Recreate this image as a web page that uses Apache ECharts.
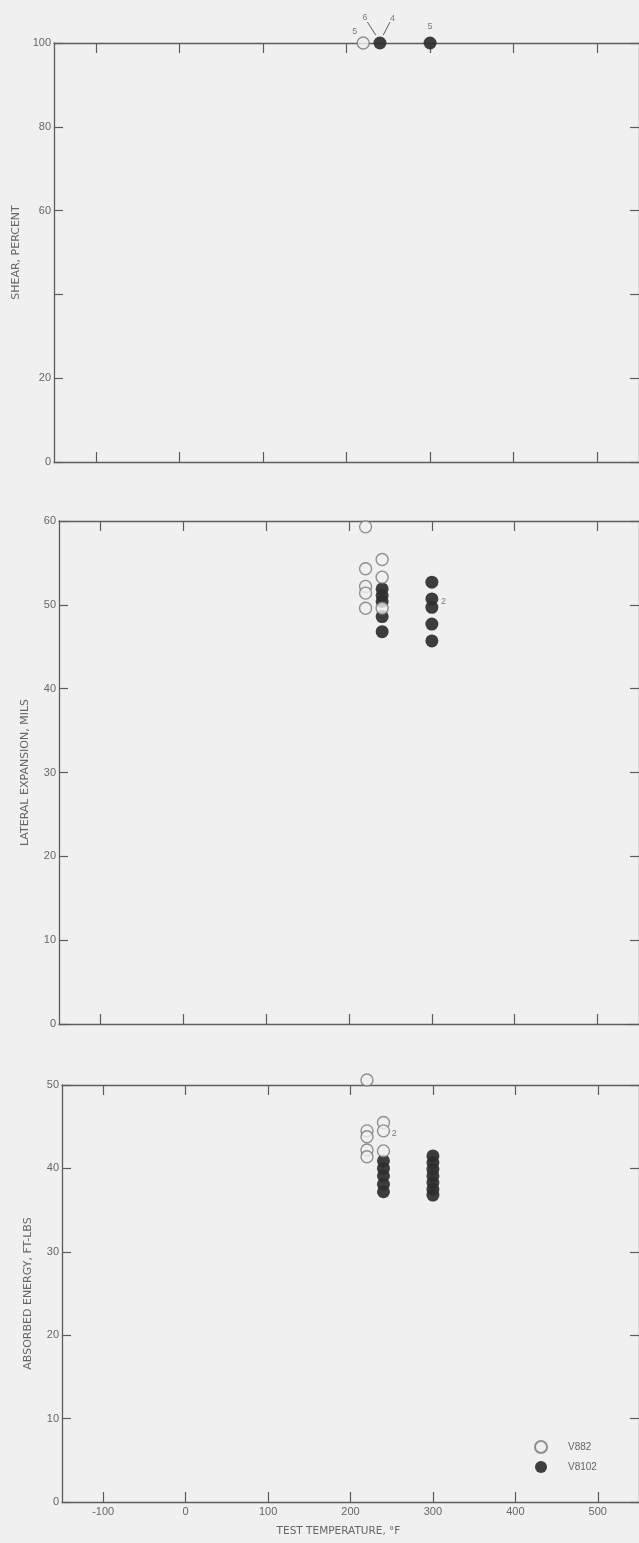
<!DOCTYPE html>
<html>
<head>
<meta charset="utf-8">
<script src="https://cdn.jsdelivr.net/npm/echarts@6/dist/echarts.min.js"></script>
<style>
  html, body { margin: 0; padding: 0; background: #f0f0f0; }
  #chart { width: 639px; height: 1543px; }
</style>
</head>
<body>
<div id="chart"></div>
<script>
// temperature ticks (deg F)
const tempTicks = [-100, 0, 100, 200, 300, 400, 500];

// shear, percent
const shearV882 = [[220, 100]];
const shearV8102 = [[240, 100], [300, 100]];
const shearNotes = [[210, 102.8, '5'], [222, 106.2, '6'], [255, 105.8, '4'], [300, 104, '5']];
const shearLeaders = [[[225, 105], [235, 101.9]], [[252, 105], [244, 101.9]]];

// lateral expansion, mils
const lateralV882 = [[220, 59.3], [220, 54.3], [220, 52.2], [220, 51.4], [220, 49.6],
  [240, 55.4], [240, 53.3], [240, 49.6]];
const lateralV8102 = [[240, 51.9], [240, 51.1], [240, 50.4], [240, 48.6], [240, 46.8],
  [300, 52.7], [300, 50.7], [300, 49.7], [300, 47.7], [300, 45.7]];
const lateralNotes = [[314, 50.4, '2']];

// absorbed energy, ft-lbs
const energyV882 = [[220, 50.6], [220, 44.5], [220, 43.8], [220, 42.2], [220, 41.4],
  [240, 45.5], [240, 44.5], [240, 42.1]];
const energyV8102 = [[240, 40.9], [240, 40.0], [240, 39.1], [240, 38.1], [240, 37.2],
  [300, 41.5], [300, 40.7], [300, 39.9], [300, 39.1], [300, 38.3], [300, 37.5], [300, 36.8]];
const energyNotes = [[253, 44.2, '2']];

const ink = '#5c5c5c';
const font = 'Liberation Sans';

const panels = [
  { grid: { left: 54, top: 43, width: 587, height: 419 }, max: 100, interval: 20,
    name: 'SHEAR, PERCENT', hide: [40], open: shearV882, filled: shearV8102, notes: shearNotes },
  { grid: { left: 59, top: 521, width: 587, height: 503 }, max: 60, interval: 10,
    name: 'LATERAL EXPANSION, MILS', hide: [], open: lateralV882, filled: lateralV8102, notes: lateralNotes },
  { grid: { left: 62, top: 1085, width: 587, height: 417 }, max: 50, interval: 10,
    name: 'ABSORBED ENERGY, FT-LBS', hide: [], open: energyV882, filled: energyV8102, notes: energyNotes }
];

const grid = [], xAxis = [], yAxis = [], series = [];

panels.forEach(function (p, i) {
  grid.push(p.grid);
  const last = i === panels.length - 1;
  const line = { onZero: false, lineStyle: { color: ink, width: 1.3 } };
  ['bottom', 'top'].forEach(function (pos) {
    xAxis.push({
      type: 'value', gridIndex: i, position: pos, min: -150, max: 550,
      axisLine: line,
      axisTick: { inside: true, length: 10, customValues: tempTicks, lineStyle: { color: ink, width: 1.2 } },
      axisLabel: { show: last && pos === 'bottom', customValues: tempTicks, color: '#666',
        fontFamily: font, fontSize: 11, margin: 4 },
      splitLine: { show: false },
      name: last && pos === 'bottom' ? 'TEST TEMPERATURE, \u00B0F' : '',
      nameLocation: 'middle', nameGap: 24,
      nameTextStyle: { color: '#666', fontFamily: 'DejaVu Sans', fontSize: 10.5, padding: [0, 24, 0, 0] }
    });
  });
  ['left', 'right'].forEach(function (pos) {
    yAxis.push({
      type: 'value', gridIndex: i, position: pos, min: 0, max: p.max, interval: p.interval,
      axisLine: line,
      axisTick: { inside: true, length: 9, lineStyle: { color: ink, width: 1.2 } },
      axisLabel: { show: pos === 'left', color: '#666', fontFamily: font, fontSize: 11, margin: 3,
        formatter: function (v) { return p.hide.indexOf(v) >= 0 ? '' : String(v); } },
      splitLine: { show: false },
      name: pos === 'left' ? p.name : '',
      nameLocation: 'middle', nameGap: 28,
      nameTextStyle: { color: '#666', fontFamily: 'DejaVu Sans', fontSize: 11 }
    });
  });
  const ax = { xAxisIndex: 2 * i, yAxisIndex: 2 * i };
  series.push(Object.assign({
    name: 'V8102', type: 'scatter', symbol: 'circle', symbolSize: 13, clip: false, z: 3,
    itemStyle: { color: '#2e2e2e', opacity: 0.92 }, data: p.filled
  }, ax));
  series.push(Object.assign({
    name: 'V882', type: 'scatter', symbol: 'circle', symbolSize: 12, clip: false, z: 4,
    itemStyle: { color: '#f0f0f0', borderColor: '#777', borderWidth: 1.4 }, data: p.open
  }, ax));
  series.push(Object.assign({
    type: 'scatter', symbolSize: 1, clip: false, silent: true, z: 5,
    itemStyle: { color: 'transparent' },
    label: { show: true, position: 'inside', color: ink, fontFamily: font, fontSize: 9,
      formatter: function (d) { return d.value[2]; } },
    data: p.notes
  }, ax));
});

series.push({
  type: 'lines', coordinateSystem: 'cartesian2d', xAxisIndex: 0, yAxisIndex: 0, clip: false,
  silent: true, lineStyle: { color: ink, width: 1, opacity: 1 },
  data: shearLeaders.map(function (c) { return { coords: c }; })
});

const chart = echarts.init(document.getElementById('chart'));
chart.setOption({
  backgroundColor: '#f0f0f0',
  animation: false,
  grid: grid,
  xAxis: xAxis,
  yAxis: yAxis,
  legend: {
    data: ['V882', 'V8102'], orient: 'vertical', left: 529, top: 1435,
    itemWidth: 12, itemHeight: 12, itemGap: 7,
    textStyle: { color: '#666', fontFamily: font, fontSize: 10, padding: [0, 0, 0, 16] }
  },
  series: series
});
</script>
</body>
</html>
